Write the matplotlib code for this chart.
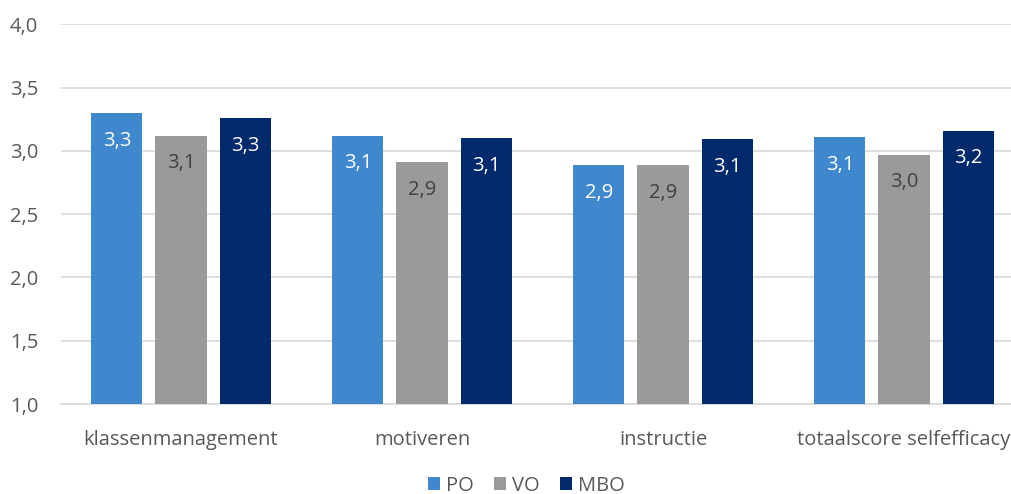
import numpy as np
from matplotlib import pyplot as plt

plt.rcParams['font.family'] = ['Open Sans', 'DejaVu Sans']

categories = ["klassenmanagement", "motiveren", "instructie", "totaalscore selfefficacy"]
series = ["PO", "VO", "MBO"]
po = [3.30, 3.12, 2.89, 3.11]
vo = [3.12, 2.91, 2.89, 2.97]
mbo = [3.26, 3.10, 3.09, 3.16]
yticks = [1.0, 1.5, 2.0, 2.5, 3.0, 3.5, 4.0]

colors = ["#3F88CE", "#9A9A9A", "#002A6B"]
label_colors = ["white", "#404040", "white"]
grey = "#595959"

fig = plt.figure(figsize=(10.12, 4.94), dpi=100)
ax = fig.add_axes([0.0598, 0.182, 0.9526, 0.769])

x = np.arange(len(categories))
w = 0.212
step = 0.266
for i, (name, vals) in enumerate(zip(series, [po, vo, mbo])):
    pos = x + (i - 1) * step
    bars = ax.bar(pos, vals, width=w, bottom=0, color=colors[i], label=name, zorder=3)
    for b, v in zip(bars, vals):
        ax.annotate(f"{v:.1f}".replace(".", ","), (b.get_x() + b.get_width() / 2, v),
                    xytext=(0, -20), textcoords="offset points", ha="center", va="center",
                    fontsize=14.5, color=label_colors[i], zorder=4)

ax.set_xlim(-0.5, len(categories) - 0.5)
ax.set_ylim(1.0, 4.0)
ax.set_yticks(yticks)
ax.set_yticklabels([f"{t:.1f}".replace(".", ",") for t in yticks])
ax.set_xticks(x)
ax.set_xticklabels(categories)
ax.yaxis.grid(True, color="#D9D9D9", linewidth=1.2, zorder=0)
ax.tick_params(axis="both", length=0, labelsize=14.5, labelcolor=grey)
ax.tick_params(axis="x", pad=19)
ax.tick_params(axis="y", pad=16)
for s in ["top", "right", "left"]:
    ax.spines[s].set_visible(False)
ax.spines["bottom"].set_color("#D9D9D9")
ax.spines["bottom"].set_linewidth(1.2)

fig.legend(loc="lower center", ncol=3, frameon=False, fontsize=14.5, labelcolor=grey,
           handlelength=0.6, handleheight=0.6, handletextpad=0.3, columnspacing=1.0,
           bbox_to_anchor=(0.52, -0.04))

fig.savefig("out.png", dpi=100)
